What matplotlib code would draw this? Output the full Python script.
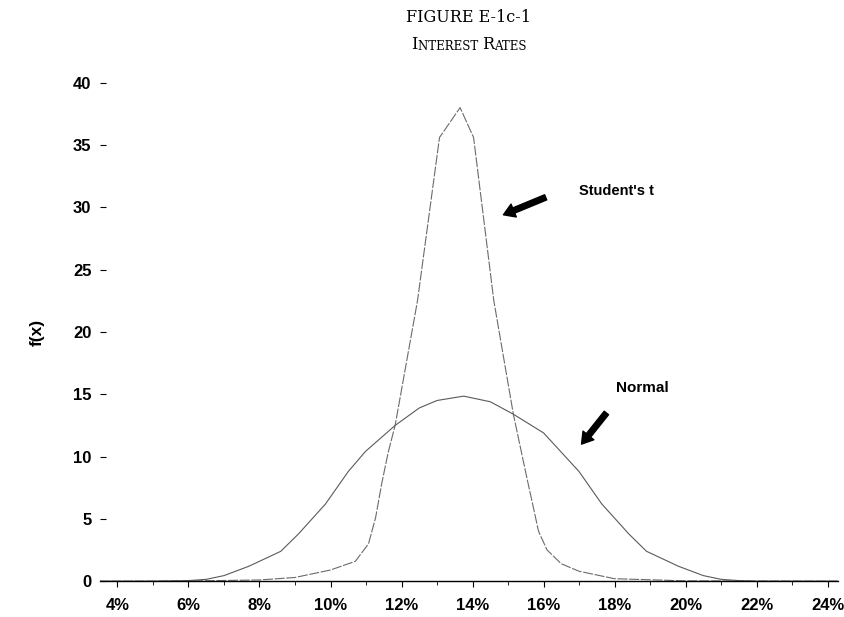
import numpy as np
import matplotlib
matplotlib.use("Agg")
import matplotlib.pyplot as plt
from matplotlib.ticker import MultipleLocator, FuncFormatter

# values (x in %, f(x))
t_x = [3.5, 6.0, 8.0, 9.0, 10.0, 10.7, 11.07, 11.27, 11.44, 11.63, 11.82, 12.45, 13.07,
       13.65, 14.03, 14.6, 15.15, 15.5, 15.86, 16.1, 16.5, 17.0, 18.0, 20.0, 24.3]
t_y = [0.0, 0.02, 0.1, 0.3, 0.9, 1.6, 3.0, 5.1, 7.8, 10.4, 12.5, 22.5, 35.6,
       38.0, 35.6, 22.5, 13.4, 8.7, 4.0, 2.5, 1.4, 0.8, 0.2, 0.03, 0.0]

norm_x = [3.5, 5.0, 6.0, 6.5, 7.0, 7.7, 8.6, 9.1, 9.86, 10.5, 10.98, 11.82, 12.5, 13.0,
          13.75, 14.5, 15.15, 16.0, 16.42, 17.0, 17.64, 18.4, 18.9, 19.8, 20.5, 21.0,
          21.5, 22.0, 24.3]
norm_y = [0.0, 0.0, 0.05, 0.15, 0.45, 1.2, 2.4, 3.8, 6.2, 8.8, 10.4, 12.5, 13.9, 14.5,
          14.85, 14.4, 13.4, 11.9, 10.6, 8.8, 6.2, 3.8, 2.4, 1.2, 0.45, 0.15,
          0.05, 0.0, 0.0]

fig = plt.figure(figsize=(8.45, 6.17), dpi=100)
ax = fig.add_axes([0.118, 0.058, 0.874, 0.808])

ax.plot(t_x, t_y, color="#6a6a6a", lw=0.8, dashes=(9, 1.5))
ax.plot(norm_x, norm_y, color="#5a5a5a", lw=0.8)

ax.set_xlim(3.5, 24.3)
ax.set_ylim(0, 40)
ax.xaxis.set_major_locator(MultipleLocator(2))
ax.xaxis.set_minor_locator(MultipleLocator(1))
ax.yaxis.set_major_locator(MultipleLocator(5))
ax.xaxis.set_major_formatter(FuncFormatter(lambda v, p: "%d%%" % round(v)))

for s in ["top", "right", "left"]:
    ax.spines[s].set_visible(False)
ax.spines["bottom"].set_linewidth(1.0)

ax.tick_params(axis="x", which="major", direction="out", length=4, width=0.8, pad=8)
ax.tick_params(axis="x", which="minor", direction="out", length=3, width=0.6)
ax.tick_params(axis="y", direction="in", length=4, width=0.8, pad=6)
for lab in ax.get_xticklabels() + ax.get_yticklabels():
    lab.set_fontfamily("Liberation Sans")
    lab.set_fontweight("bold")
    lab.set_fontsize(12)

ax.set_ylabel("f(x)", fontfamily="Liberation Sans", fontweight="bold", fontsize=12.5, labelpad=20)

# annotations
arrow = dict(facecolor="black", edgecolor="black", width=4, headwidth=10, headlength=8, shrink=0)
ax.annotate("", xy=(14.87, 29.4), xytext=(16.06, 30.8), arrowprops=arrow)
ax.text(17.0, 31.3, "Student's t", fontfamily="Liberation Sans", fontweight="bold",
        fontsize=10.5, va="center", ha="left")
ax.annotate("", xy=(17.07, 11.0), xytext=(17.77, 13.5), arrowprops=arrow)
ax.text(18.05, 15.5, "Normal", fontfamily="Liberation Sans", fontweight="bold",
        fontsize=11, va="center", ha="left")

# titles
fig.text(0.555, 1 - 18 / 617, "FIGURE E-1c-1", family="DejaVu Serif", fontsize=11.5,
         ha="center", va="center")

# small caps subtitle built from pieces
pieces = [("I", 11.5), ("NTEREST ", 8.5), ("R", 11.5), ("ATES", 8.5)]
first = fig.text(0.5, 1 - 53 / 617, pieces[0][0], family="DejaVu Serif",
                 fontsize=pieces[0][1], ha="left", va="bottom")
parts = [first]
for s, fs in pieces[1:]:
    p = fig.text(0, 0, s, family="DejaVu Serif", fontsize=fs, ha="left", va="bottom")
    parts.append(p)

r = fig.canvas.get_renderer()
x0 = first.get_window_extent(r).x1
y0 = first.get_window_extent(r).y0
for p in parts[1:]:
    p.set_transform(matplotlib.transforms.IdentityTransform())
    p.set_position((x0, y0))
    x0 = p.get_window_extent(r).x1
total_left = first.get_window_extent(r).x0
shift = (0.555 * 845) - (total_left + x0) / 2
for p in parts:
    if p is first:
        p.set_position((0.5 + shift / 845, 1 - 53 / 617))
    else:
        x, y = p.get_position()
        p.set_position((x + shift, y))

fig.savefig("out.png", dpi=100)
